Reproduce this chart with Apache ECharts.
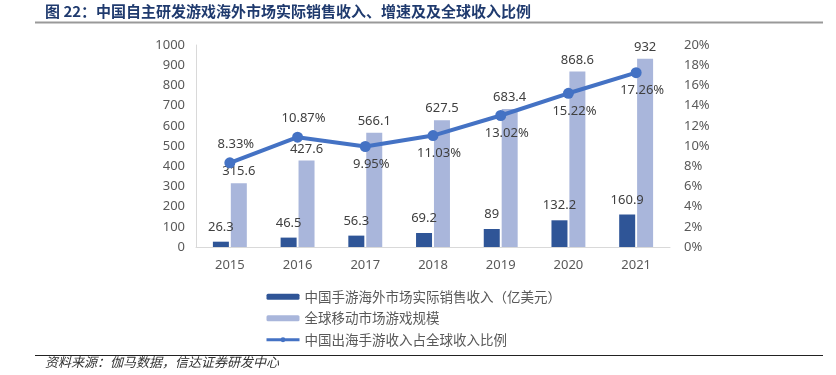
<!DOCTYPE html>
<html>
<head>
<meta charset="utf-8">
<style>
  html, body { margin: 0; padding: 0; background: #fff; }
  #chart { width: 836px; height: 375px; }
</style>
<script src="https://cdn.jsdelivr.net/npm/echarts@6/dist/echarts.min.js"></script>
</head>
<body>
<div id="chart"></div>
<script>
// data
const years = ['2015', '2016', '2017', '2018', '2019', '2020', '2021'];
const chinaOverseas = [26.3, 46.5, 56.3, 69.2, 89, 132.2, 160.9];
const globalMobile = [315.6, 427.6, 566.1, 627.5, 683.4, 868.6, 932];
const shareOfGlobal = [8.33, 10.87, 9.95, 11.03, 13.02, 15.22, 17.26];
const seriesNames = ['中国手游海外市场实际销售收入（亿美元）', '全球移动市场游戏规模', '中国出海手游收入占全球收入比例'];

const font = '"Noto Sans", "Noto Sans CJK SC", sans-serif';
const cjk = '"Noto Sans CJK SC", sans-serif';
const labelStyle = { color: '#404040', fontSize: 13, fontFamily: font };

let myChart = echarts.init(document.getElementById('chart'));

let option = {
    animation: false,
    grid: { left: 196, right: 166, top: 45, bottom: 128 },
    legend: {
        orient: 'vertical',
        left: 260,
        top: 285,
        itemWidth: 33,
        itemHeight: 6,
        itemGap: 8,
        textStyle: { color: '#595959', fontSize: 13.5, fontFamily: cjk },
        data: [
            seriesNames[0],
            seriesNames[1],
            { name: seriesNames[2], lineStyle: { width: 3 } }
        ]
    },
    xAxis: {
        type: 'category',
        data: years,
        axisLine: { lineStyle: { color: '#D9D9D9', width: 1 } },
        axisTick: { show: false },
        axisLabel: { color: '#595959', fontSize: 13, fontFamily: font, margin: 12 }
    },
    yAxis: [
        {
            type: 'value',
            min: 0, max: 1000, interval: 100,
            splitLine: { show: false },
            axisLine: { show: true, lineStyle: { color: '#D9D9D9' } },
            axisTick: { show: false },
            axisLabel: { color: '#595959', fontSize: 13, fontFamily: font, margin: 11, formatter: v => String(v) }
        },
        {
            type: 'value',
            min: 0, max: 20, interval: 2,
            splitLine: { show: false },
            axisLine: { show: false },
            axisTick: { show: false },
            axisLabel: { color: '#595959', fontSize: 13, fontFamily: font, margin: 14, formatter: '{value}%' }
        }
    ],
    series: [
        {
            name: seriesNames[0],
            type: 'bar',
            barWidth: 16,
            barGap: '12%',
            itemStyle: { color: '#2F5597' },
            label: Object.assign({ show: true, position: 'top', distance: 8 }, labelStyle),
            data: chinaOverseas
        },
        {
            name: seriesNames[1],
            type: 'bar',
            barWidth: 16,
            itemStyle: { color: '#A9B6DB' },
            label: Object.assign({ show: true, position: 'top', distance: 5 }, labelStyle),
            data: globalMobile
        },
        {
            name: seriesNames[2],
            type: 'line',
            yAxisIndex: 1,
            symbol: 'circle',
            symbolSize: 11,
            lineStyle: { color: '#4472C4', width: 4 },
            itemStyle: { color: '#4472C4' },
            label: Object.assign({ show: true, position: 'bottom', distance: 6, offset: [6, 0], formatter: '{c}%' }, labelStyle),
            data: shareOfGlobal.map((v, i) => i < 2 ? { value: v, label: { position: 'top', distance: 7 } } : v)
        }
    ],
    graphic: [
        {
            type: 'text', left: 45, top: 4,
            style: { text: '图 22：中国自主研发游戏海外市场实际销售收入、增速及及全球收入比例', fill: '#1F3A6E', font: 'bold 15px "Noto Sans CJK SC", sans-serif' }
        },
        {
            type: 'line', shape: { x1: 35, y1: 22.5, x2: 823, y2: 22.5 },
            style: { stroke: '#999999', lineWidth: 2 }
        },
        {
            type: 'line', shape: { x1: 35, y1: 355.5, x2: 823, y2: 355.5 },
            style: { stroke: '#222222', lineWidth: 1 }
        },
        {
            type: 'text', left: 45, top: 356,
            style: { text: '资料来源：伽马数据，信达证券研发中心', fill: '#333333', font: 'italic 13px "Noto Sans CJK SC", sans-serif' }
        }
    ]
};

myChart.setOption(option);
window.onresize = function () {
    myChart.resize();
}
</script>
</body>
</html>
